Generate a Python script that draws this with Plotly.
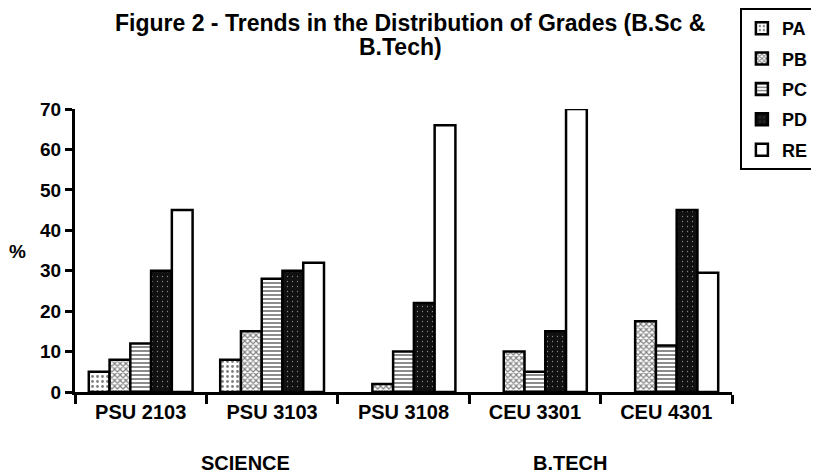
import plotly.graph_objects as go

# data (None = no bar drawn)
courses = ["PSU 2103", "PSU 3103", "PSU 3108", "CEU 3301", "CEU 4301"]
grade_pa = [5, 8, None, None, None]
grade_pb = [8, 15, 2, 10, 17.5]
grade_pc = [12, 28, 10, 5, 11.5]
grade_pd = [30, 30, 22, 15, 45]
grade_re = [45, 32, 66, 70, 29.5]
y_ticks = [0, 10, 20, 30, 40, 50, 60, 70]

FONT = "Liberation Sans"
BLACK = "#000000"

STYLES = {
    "PA": dict(shape=".", size=5, solidity=0.25, fgcolor=BLACK, bgcolor="white"),
    "PB": dict(shape="x", size=4, solidity=0.5, fgcolor=BLACK, bgcolor="white"),
    "PC": dict(shape="-", size=4, solidity=0.45, fgcolor=BLACK, bgcolor="white"),
    "PD": dict(shape=".", size=5, solidity=0.05, fgcolor="white", bgcolor="#111111"),
    "RE": dict(shape="", fgcolor=BLACK, bgcolor="white"),
}

series = [
    ("PA", grade_pa),
    ("PB", grade_pb),
    ("PC", grade_pc),
    ("PD", grade_pd),
    ("RE", grade_re),
]

fig = go.Figure()
for name, vals in series:
    pat = STYLES[name]
    fig.add_trace(go.Bar(
        x=courses,
        y=vals,
        name=name,
        legendgroup=name,
        marker=dict(
            color=pat["bgcolor"],
            pattern=pat,
            line=dict(color=BLACK, width=2.5),
        ),
    ))

bold = dict(family=FONT, color=BLACK, weight="bold")

# the page body adds 8px, so margins are shifted by that amount
fig.update_layout(
    width=819, height=475,
    barmode="group",
    bargap=0.21,
    bargroupgap=0,
    plot_bgcolor="white",
    paper_bgcolor="white",
    margin=dict(l=67, r=95, t=101, b=91, autoexpand=False),
    showlegend=True,
    legend=dict(
        x=1.012, y=1.357, xanchor="left", yanchor="top",
        font=dict(size=18, **bold),
        bordercolor=BLACK, borderwidth=2, bgcolor="white",
        traceorder="grouped", tracegroupgap=4,
    ),
    xaxis=dict(
        showline=True, linecolor=BLACK, linewidth=3,
        ticks="outside", tickson="boundaries", ticklen=9, tickwidth=3,
        tickcolor=BLACK, tickfont=dict(size=20, **bold),
        showgrid=False,
    ),
    yaxis=dict(
        range=[0, 70], tickvals=y_ticks,
        showline=True, linecolor=BLACK, linewidth=3,
        ticks="outside", ticklen=7, tickwidth=3, tickcolor=BLACK,
        tickfont=dict(size=19, **bold),
        showgrid=False, zeroline=False,
    ),
)


def label(text, x, y, size):
    fig.add_annotation(text=text, x=x, y=y, xref="paper", yref="paper",
                       xanchor="center", yanchor="middle",
                       showarrow=False, font=dict(size=size, **bold))


# two-line title, near the top edge like the reference
label("Figure 2 - Trends in the Distribution of Grades (B.Sc &", 0.51, 1.304, 23)
label("B.Tech)", 0.496, 1.218, 23)
label("%", -0.087, 0.495, 19)
label("SCIENCE", 0.26, -0.251, 20)
label("B.TECH", 0.753, -0.251, 20)

fig.write_html("out.html")
